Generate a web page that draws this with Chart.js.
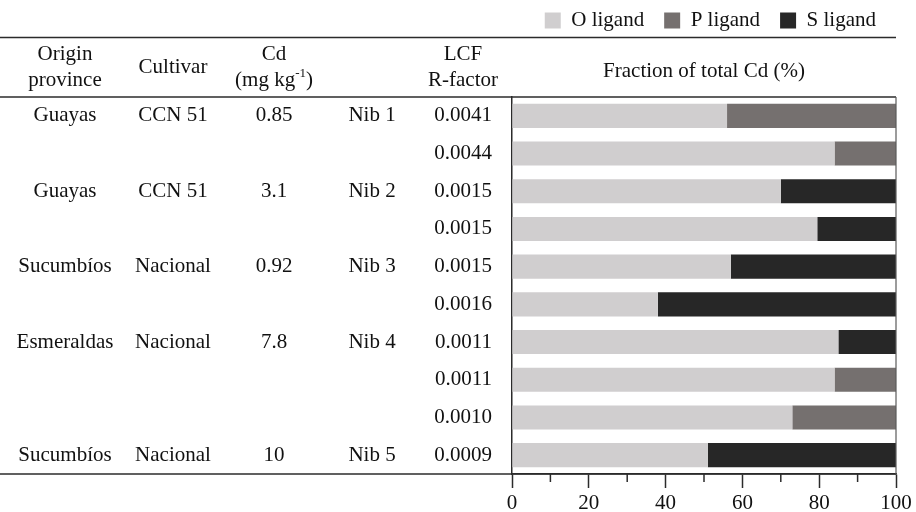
<!DOCTYPE html>
<html>
<head>
<meta charset="utf-8">
<script src="https://cdn.jsdelivr.net/npm/chart.js@4.4.1/dist/chart.umd.min.js"></script>
<style>
  html, body { margin: 0; padding: 0; background: #ffffff; }
  #wrap { width: 916px; height: 512px; }
</style>
</head>
<body>
<div id="wrap"><canvas id="c" width="916" height="512"></canvas></div>
<script>
// Sample table columns (one entry per bar row, top to bottom)
const provinces = ['Guayas', '', 'Guayas', '', 'Sucumbíos', '', 'Esmeraldas', '', '', 'Sucumbíos'];
const cultivars = ['CCN 51', '', 'CCN 51', '', 'Nacional', '', 'Nacional', '', '', 'Nacional'];
const cdContent = ['0.85', '', '3.1', '', '0.92', '', '7.8', '', '', '10'];
const nibs = ['Nib 1', '', 'Nib 2', '', 'Nib 3', '', 'Nib 4', '', '', 'Nib 5'];
const rFactors = ['0.0041', '0.0044', '0.0015', '0.0015', '0.0015', '0.0016', '0.0011', '0.0011', '0.0010', '0.0009'];

// Fraction of total Cd (%) per ligand type
const oLigand = [56, 84, 70, 79.5, 57, 38, 85, 84, 73, 51];
const pLigand = [44, 16, null, null, null, null, null, 16, 27, null];
const sLigand = [null, null, 30, 20.5, 43, 62, 15, null, null, 49];

const FAMILY = "'Liberation Serif', 'Times New Roman', serif";
const FS = 21;
const INK = '#111111';
const RULE = '#2b2b2b';

Chart.defaults.font.family = FAMILY;
Chart.defaults.font.size = FS;
Chart.defaults.color = INK;

// Table text, header, rules and minor ticks
const tablePlugin = {
  id: 'sampleTable',
  afterDraw(chart) {
    const { ctx, chartArea, scales } = chart;
    const y = scales.y, x = scales.x;
    ctx.save();
    ctx.fillStyle = INK;
    ctx.font = FS + 'px ' + FAMILY;
    ctx.textAlign = 'center';
    ctx.textBaseline = 'middle';

    const cols = [[provinces, 65], [cultivars, 173], [cdContent, 274], [nibs, 372]];
    cols.forEach(([arr, cx]) => {
      arr.forEach((t, i) => { if (t) ctx.fillText(t, cx, y.getPixelForValue(i)); });
    });

    // header row
    const l1 = 54, l2 = 80, mid = 67;
    ctx.fillText('Origin', 65, l1);
    ctx.fillText('province', 65, l2);
    ctx.fillText('Cultivar', 173, mid);
    ctx.fillText('Cd', 274, l1);
    ctx.fillText('LCF', 463, l1);
    ctx.fillText('R-factor', 463, l2);

    // "(mg kg-1)" with superscript
    const a = '(mg kg', sup = '-1', b = ')';
    const supFont = Math.round(FS * 0.62) + 'px ' + FAMILY;
    const wa = ctx.measureText(a).width, wb = ctx.measureText(b).width;
    ctx.font = supFont;
    const ws = ctx.measureText(sup).width;
    let sx = 274 - (wa + ws + wb) / 2;
    ctx.textAlign = 'left';
    ctx.font = FS + 'px ' + FAMILY;
    ctx.fillText(a, sx, l2);
    ctx.font = supFont;
    ctx.fillText(sup, sx + wa, l2 - 6);
    ctx.font = FS + 'px ' + FAMILY;
    ctx.fillText(b, sx + wa + ws, l2);

    // horizontal rules
    ctx.strokeStyle = RULE;
    ctx.lineWidth = 1.5;
    [37.5, chartArea.top, chartArea.bottom].forEach(yy => {
      ctx.beginPath();
      ctx.moveTo(0, yy);
      ctx.lineTo(chartArea.right, yy);
      ctx.stroke();
    });

    // right frame
    ctx.strokeStyle = '#5a5a5a';
    ctx.lineWidth = 1.2;
    ctx.beginPath();
    ctx.moveTo(chartArea.right, chartArea.top);
    ctx.lineTo(chartArea.right, chartArea.bottom);
    ctx.stroke();

    // minor ticks on the percentage axis
    ctx.strokeStyle = RULE;
    ctx.lineWidth = 1.5;
    [10, 30, 50, 70, 90].forEach(v => {
      const px = x.getPixelForValue(v);
      ctx.beginPath();
      ctx.moveTo(px, chartArea.bottom);
      ctx.lineTo(px, chartArea.bottom + 8);
      ctx.stroke();
    });
    ctx.restore();
  }
};

new Chart(document.getElementById('c'), {
  type: 'bar',
  data: {
    labels: rFactors,
    datasets: [
      { label: 'O ligand', data: oLigand, backgroundColor: '#d0cecf' },
      { label: 'P ligand', data: pLigand, backgroundColor: '#75706f' },
      { label: 'S ligand', data: sLigand, backgroundColor: '#272727' }
    ]
  },
  options: {
    indexAxis: 'y',
    responsive: false,
    animation: false,
    devicePixelRatio: 1,
    datasets: { bar: { categoryPercentage: 1, barPercentage: 0.64, borderWidth: 0 } },
    layout: { padding: { top: -10, right: 20, left: 0, bottom: 0 } },
    plugins: {
      legend: {
        position: 'top',
        align: 'end',
        labels: { boxWidth: 16, boxHeight: 16, padding: 20, color: INK, font: { size: FS } }
      },
      tooltip: { enabled: false }
    },
    scales: {
      x: {
        type: 'linear',
        position: 'bottom',
        stacked: true,
        min: 0,
        max: 100,
        ticks: {
          stepSize: 10,
          autoSkip: false,
          maxRotation: 0,
          padding: 3,
          color: INK,
          callback: v => (v % 20 === 0 ? String(v) : '')
        },
        grid: {
          drawOnChartArea: false,
          drawTicks: true,
          tickLength: 14,
          tickWidth: 1.5,
          tickColor: c => (c.tick && c.tick.value % 20 === 0 ? RULE : 'rgba(0,0,0,0)')
        },
        border: { display: true, color: RULE, width: 1.5 },
        afterFit: s => { s.height = 38; }
      },
      xTop: {
        type: 'linear',
        position: 'top',
        min: 0,
        max: 100,
        grid: { display: false },
        ticks: { display: false },
        border: { display: false },
        title: {
          display: true,
          text: 'Fraction of total Cd (%)',
          color: INK,
          font: { size: FS },
          padding: { top: 18, bottom: 0 }
        },
        afterFit: s => { s.height = 56; }
      },
      y: {
        type: 'category',
        stacked: true,
        ticks: { crossAlign: 'near', padding: 20, color: INK, font: { size: FS } },
        grid: { drawOnChartArea: false, drawTicks: false },
        border: { display: true, color: RULE, width: 1.5 },
        afterFit: s => { s.width = 512; }
      }
    }
  },
  plugins: [tablePlugin]
});
</script>
</body>
</html>
